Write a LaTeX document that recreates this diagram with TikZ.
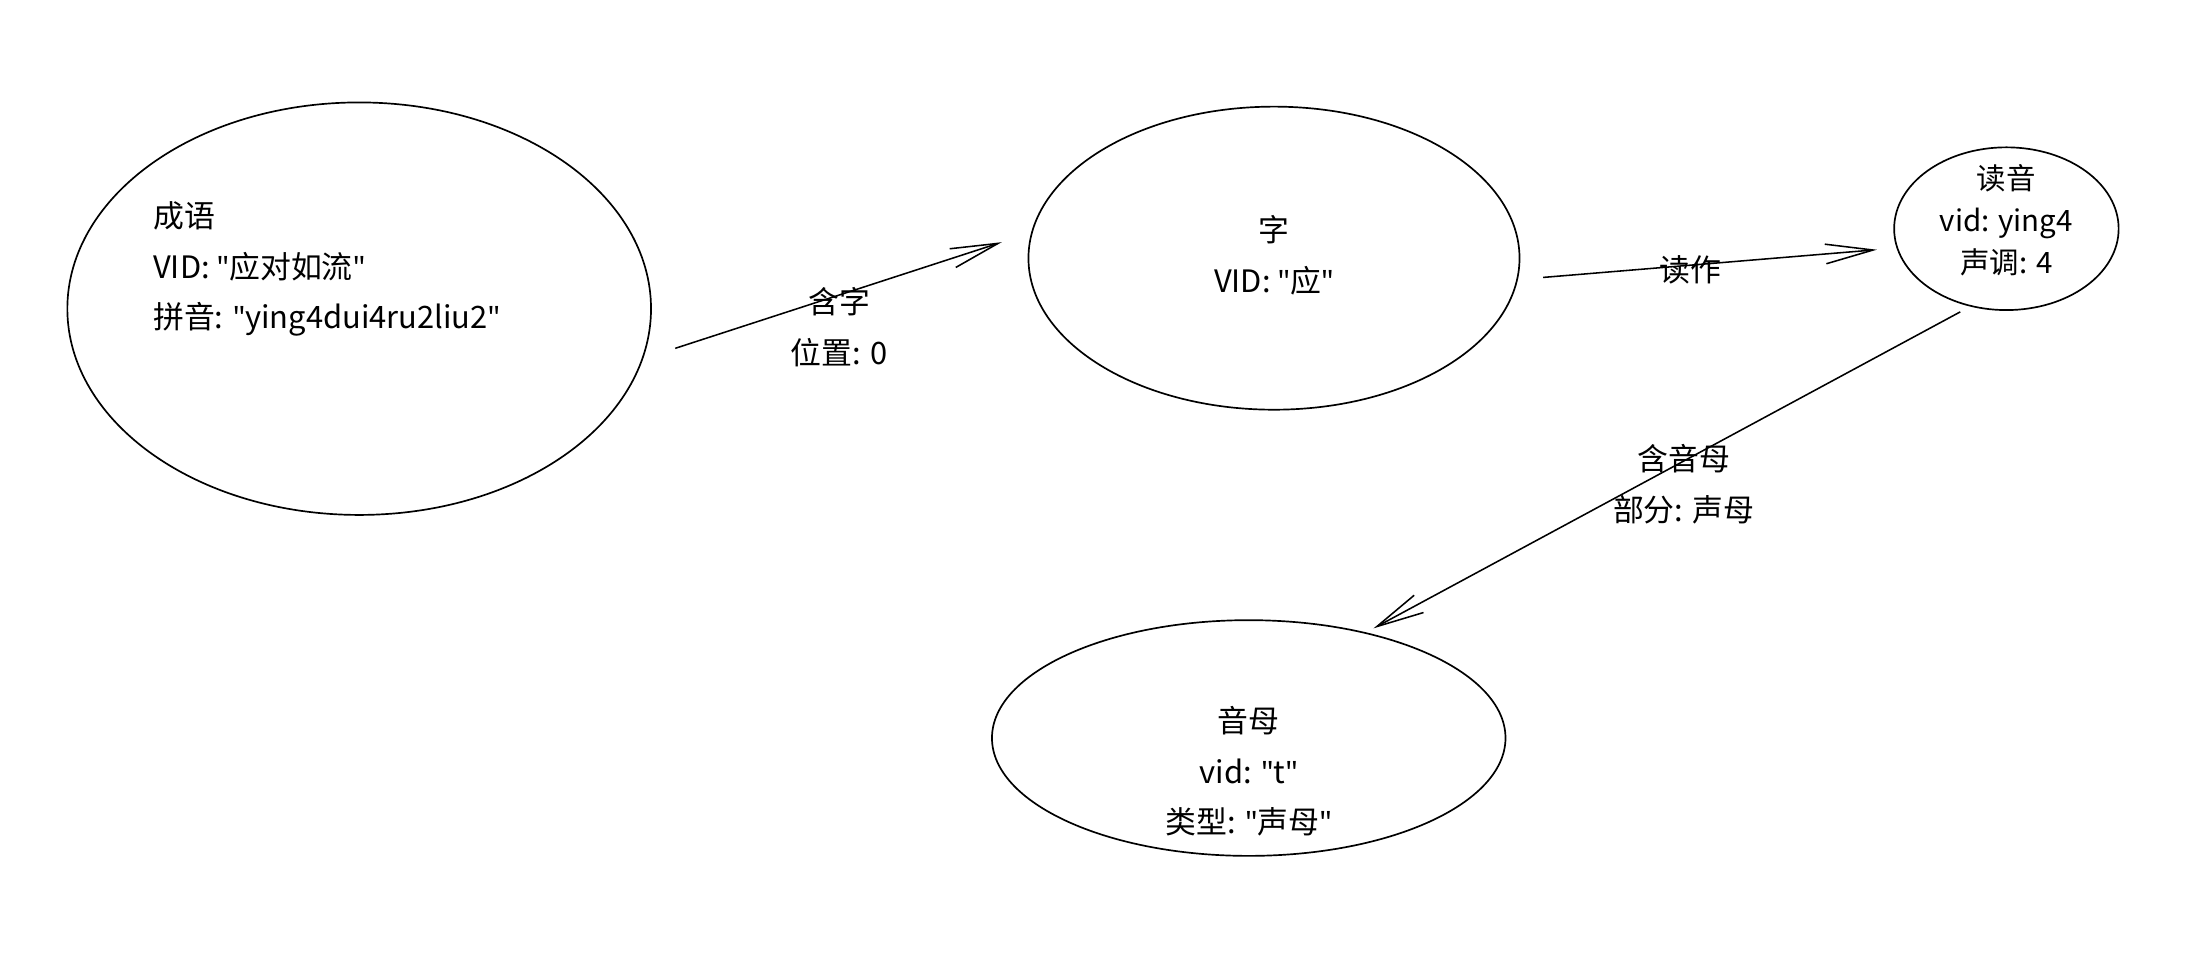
\documentclass[tikz,border=0pt]{standalone}
\usepackage{fontspec}
\setmainfont{Noto Sans CJK SC}[Ligatures=NoCommon]
\newfontfamily\latinfont{Noto Sans}
\usetikzlibrary{shapes.geometric,arrows.meta}
\newcommand{\qt}{{\latinfont\char"22\relax}}
\tikzset{
  blob/.style={draw,ellipse,line width=1.2pt,inner sep=0pt},
  txt/.style={font=\fontsize{22}{36}\selectfont,align=center,inner sep=1pt},
  rel/.style={line width=1.1pt,-{Straight Barb[length=34pt,width=14pt,line width=1.1pt]}}
}
\begin{document}
\begin{tikzpicture}[x=1pt,y=1pt,yscale=-1]
\useasboundingbox (0,0) rectangle (1568,683);
%ellipses
\node[blob,minimum width=416pt,minimum height=294pt] (chengyu) at (256,220) {};
\node[blob,minimum width=350pt,minimum height=216pt] (zi) at (908,184) {};
\node[blob,minimum width=160pt,minimum height=116pt] (duyin) at (1430,163) {};
\node[blob,minimum width=366pt,minimum height=168pt] (yinmu) at (890,526) {};
%texts
\node[txt,align=left,anchor=west] (tcy) at (108,192) {成语\\VID: \qt 应对如流\qt\\拼音: \qt ying4dui4ru2liu2\qt};
\node[txt] (tzi) at (908,182) {字\\VID: \qt 应\qt};
\node[txt,font=\fontsize{21}{30}\selectfont] (tdy) at (1430,157) {读音\\vid: ying4\\声调: 4};
\node[txt] (tym) at (890,550) {音母\\vid: \qt t\qt\\类型: \qt 声母\qt};
%connectors
\draw[rel,shorten <=24pt,shorten >=22pt] (chengyu.-10) -- (zi.174);
\draw[rel,shorten <=18pt,shorten >=14pt] (zi.-5) -- (duyin.-170);
\draw[rel,shorten <=8pt,shorten >=6pt] (duyin.-115) -- (yinmu.42);
%labels
\node[txt] (l1) at (598,233) {含字\\位置: 0};
\node[txt] (l2) at (1205,192) {读作};
\node[txt] (l3) at (1200,345) {含音母\\部分: 声母};
\end{tikzpicture}
\end{document}
